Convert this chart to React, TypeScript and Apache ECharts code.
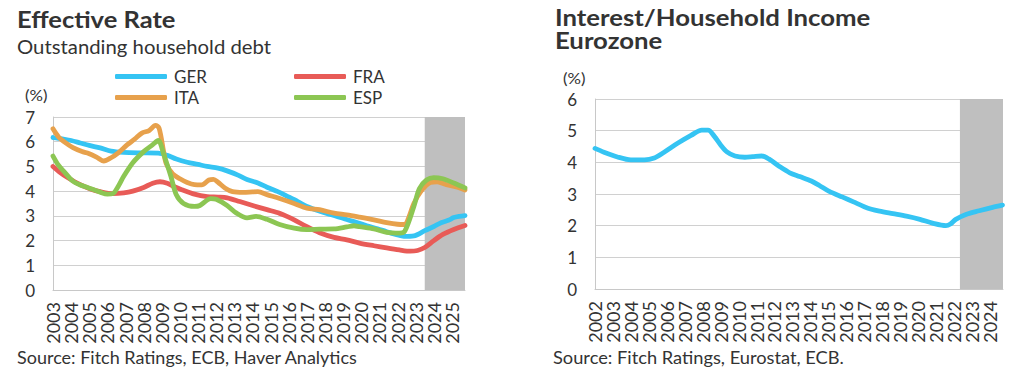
import { useEffect, useRef } from "react";
import * as echarts from "echarts";

type Pt = [number, number];

// Effective rate, outstanding household debt (%), [year, value]
const GER: Pt[] = [
  [2003.0, 6.17], [2003.5, 6.12], [2004.0, 6.05], [2004.5, 5.95], [2005.0, 5.85], [2005.6, 5.75],
  [2006.2, 5.62], [2006.9, 5.57], [2007.8, 5.55], [2008.8, 5.54], [2009.3, 5.45], [2009.8, 5.3],
  [2010.4, 5.17], [2011.0, 5.08], [2011.5, 5.0], [2012.1, 4.93], [2012.6, 4.82], [2013.2, 4.65],
  [2013.7, 4.47], [2014.3, 4.33], [2014.8, 4.16], [2015.4, 3.98], [2015.9, 3.8], [2016.5, 3.58],
  [2017.0, 3.38], [2017.6, 3.22], [2018.1, 3.1], [2018.7, 2.97], [2019.2, 2.85], [2019.8, 2.72],
  [2020.3, 2.6], [2020.9, 2.48], [2021.4, 2.36], [2021.9, 2.25], [2022.35, 2.17], [2022.9, 2.19],
  [2023.5, 2.4], [2024.0, 2.57], [2024.4, 2.72], [2024.8, 2.82], [2025.1, 2.93], [2025.4, 2.98],
  [2025.72, 3.01],
];
const FRA: Pt[] = [
  [2003.0, 5.0], [2003.4, 4.75], [2003.8, 4.55], [2004.5, 4.26], [2005.1, 4.08], [2005.6, 3.98],
  [2006.3, 3.9], [2006.9, 3.93], [2007.4, 4.0], [2008.0, 4.15], [2008.5, 4.32], [2008.9, 4.38],
  [2009.3, 4.32], [2009.7, 4.18], [2010.1, 4.06], [2010.8, 3.88], [2011.5, 3.78], [2012.1, 3.76],
  [2012.6, 3.73], [2013.3, 3.58], [2014.1, 3.4], [2014.8, 3.25], [2015.5, 3.1], [2015.9, 2.98],
  [2016.3, 2.84], [2017.0, 2.56], [2017.7, 2.32], [2018.5, 2.13], [2019.2, 2.03], [2019.9, 1.9],
  [2020.7, 1.79], [2021.4, 1.7], [2022.1, 1.62], [2022.7, 1.57], [2023.1, 1.6], [2023.5, 1.72],
  [2024.0, 2.0], [2024.5, 2.25], [2025.1, 2.45], [2025.72, 2.61],
];
const ITA: Pt[] = [
  [2003.0, 6.52], [2003.3, 6.2], [2003.7, 5.95], [2004.1, 5.76], [2004.6, 5.6], [2004.9, 5.54],
  [2005.4, 5.38], [2005.8, 5.22], [2006.2, 5.35], [2006.6, 5.55], [2007.1, 5.88], [2007.5, 6.1],
  [2007.9, 6.35], [2008.3, 6.45], [2008.65, 6.66], [2008.85, 6.55], [2009.1, 5.6], [2009.25, 5.1],
  [2009.6, 4.7], [2010.0, 4.5], [2010.4, 4.35], [2010.8, 4.26], [2011.2, 4.25], [2011.6, 4.45],
  [2011.85, 4.48], [2012.1, 4.36], [2012.5, 4.12], [2012.9, 3.98], [2013.5, 3.95], [2014.0, 3.97],
  [2014.3, 3.98], [2014.8, 3.86], [2015.5, 3.7], [2016.3, 3.5], [2017.0, 3.31], [2017.7, 3.25],
  [2018.5, 3.11], [2019.2, 3.04], [2019.9, 2.95], [2020.7, 2.84], [2021.4, 2.73], [2022.0, 2.66],
  [2022.4, 2.65], [2022.6, 2.9], [2022.9, 3.5], [2023.3, 4.0], [2023.8, 4.35], [2024.2, 4.38],
  [2024.7, 4.26], [2025.3, 4.16], [2025.72, 4.05],
];
const ESP: Pt[] = [
  [2003.0, 5.42], [2003.3, 5.05], [2003.6, 4.8], [2004.1, 4.4], [2004.5, 4.25], [2004.9, 4.15],
  [2005.6, 3.96], [2006.0, 3.88], [2006.3, 3.9], [2006.6, 4.2], [2006.9, 4.6], [2007.4, 5.15],
  [2008.0, 5.6], [2008.5, 5.88], [2008.8, 6.05], [2009.1, 5.5], [2009.5, 4.6], [2009.8, 3.85],
  [2010.2, 3.5], [2010.8, 3.38], [2011.1, 3.42], [2011.7, 3.7], [2012.0, 3.67], [2012.6, 3.42],
  [2013.1, 3.12], [2013.7, 2.92], [2014.2, 2.98], [2014.8, 2.86], [2015.5, 2.65], [2016.3, 2.5],
  [2017.0, 2.44], [2017.7, 2.46], [2018.5, 2.47], [2019.2, 2.55], [2019.6, 2.6], [2019.9, 2.56],
  [2020.7, 2.47], [2021.4, 2.33], [2022.1, 2.3], [2022.4, 2.38], [2022.9, 3.38], [2023.2, 4.1],
  [2023.6, 4.45], [2024.0, 4.55], [2024.5, 4.5], [2025.1, 4.33], [2025.72, 4.13],
];

// Interest / household income, Eurozone (%)
const EZ: Pt[] = [
  [2002.0, 4.44], [2002.5, 4.32], [2003.25, 4.17], [2004.0, 4.08], [2004.75, 4.08], [2005.3, 4.14],
  [2005.85, 4.32], [2006.6, 4.6], [2007.35, 4.85], [2007.95, 5.02], [2008.3, 5.02], [2008.65, 4.82],
  [2009.0, 4.55], [2009.35, 4.33], [2009.8, 4.2], [2010.35, 4.16], [2010.8, 4.18], [2011.3, 4.2],
  [2011.7, 4.1], [2012.3, 3.86], [2012.85, 3.67], [2013.4, 3.55], [2014.05, 3.41], [2014.5, 3.27],
  [2015.05, 3.08], [2015.8, 2.9], [2016.4, 2.75], [2017.0, 2.6], [2017.4, 2.52], [2017.85, 2.46],
  [2018.6, 2.38], [2019.35, 2.3], [2020.1, 2.2], [2020.8, 2.08], [2021.55, 2.0], [2021.8, 2.05],
  [2022.1, 2.2], [2022.7, 2.36], [2023.4, 2.47], [2024.15, 2.58], [2024.7, 2.65],
];

const LEFT_NAMES = ["GER", "FRA", "ITA", "ESP"];
const LEFT_DATA = [GER, FRA, ITA, ESP];
const LEFT_X_RANGE: [number, number] = [2003, 2025.72];
const RIGHT_X_RANGE: [number, number] = [2002, 2024.73];
const LEFT_FORECAST: [number, number] = [2023.5, 2025.72];
const RIGHT_FORECAST: [number, number] = [2022.33, 2024.73];
const LEFT_Y_MAX = 7;
const RIGHT_Y_MAX = 6;

const COLORS: Record<string, string> = {
  GER: "#35C4F3",
  FRA: "#E85B57",
  ITA: "#E7A14C",
  ESP: "#8CC653",
};
const FONT = "Lato, 'Noto Sans', sans-serif";
const TEXT = "#333333";

export default function App() {
  const ref = useRef<HTMLDivElement>(null);
  useEffect(() => {
    if (!ref.current) return;
    const chart = echarts.init(ref.current, undefined, { renderer: "svg" });

    const xAxisBase = (range: [number, number], gridIndex: number) => ({
      type: "value" as const,
      gridIndex,
      min: range[0],
      max: range[1],
      interval: 1,
      axisLine: { show: true, lineStyle: { color: "#C8C8C8", width: 1 } },
      axisTick: { show: false },
      splitLine: { show: false },
      axisLabel: {
        rotate: 90,
        margin: 12,
        fontSize: 18,
        fontFamily: FONT,
        color: TEXT,
        showMaxLabel: false,
        formatter: (v: number) => (Number.isInteger(v) ? String(v) : ""),
      },
    });
    const yAxisBase = (max: number, gridIndex: number) => ({
      type: "value" as const,
      gridIndex,
      min: 0,
      max,
      interval: 1,
      axisLine: { show: true, lineStyle: { color: "#C8C8C8", width: 1 } },
      axisTick: { show: false },
      splitLine: { show: true, lineStyle: { color: "#D0D0D0", width: 1 } },
      axisLabel: { margin: 18, fontSize: 17, fontFamily: FONT, color: TEXT },
    });

    const lineSeries = (name: string, data: Pt[], color: string, axisIndex: number) => ({
      name,
      type: "line" as const,
      xAxisIndex: axisIndex,
      yAxisIndex: axisIndex,
      data,
      smooth: 0.3,
      symbol: "none",
      lineStyle: { color, width: 4.8, cap: "round" as const, join: "round" as const },
      itemStyle: { color },
      z: 3,
    });

    const leftSeries: any[] = LEFT_NAMES.map((n, i) => lineSeries(n, LEFT_DATA[i], COLORS[n], 0));
    leftSeries[0].markArea = {
      silent: true,
      itemStyle: { color: "#BFBFBF", opacity: 1 },
      data: [[{ xAxis: LEFT_FORECAST[0] }, { xAxis: LEFT_FORECAST[1] }]],
    };
    const rightSeries: any = lineSeries("Eurozone", EZ, COLORS.GER, 1);
    rightSeries.markArea = {
      silent: true,
      itemStyle: { color: "#BFBFBF", opacity: 1 },
      data: [[{ xAxis: RIGHT_FORECAST[0] }, { xAxis: RIGHT_FORECAST[1] }]],
    };

    const legendBase = {
      orient: "vertical" as const,
      top: 68,
      itemWidth: 52,
      itemHeight: 5,
      itemGap: 4,
      icon: "roundRect",
      textStyle: { fontSize: 17, fontFamily: FONT, color: TEXT, padding: [0, 0, 0, 2] },
      selectedMode: false,
      padding: 0,
    };

    const text = (x: number, y: number, t: string, size: number, sx: number, bold = false) => ({
      type: "text",
      x,
      y,
      scaleX: sx,
      style: {
        text: t,
        fontSize: size,
        fontWeight: bold ? "bold" : "normal",
        fontFamily: FONT,
        fill: TEXT,
        align: "left",
        verticalAlign: "middle",
      },
    });

    chart.setOption({
      animation: false,
      grid: [
        { left: 53, right: 1024 - 465, top: 117, bottom: 377 - 290 },
        { left: 595, right: 1024 - 1003, top: 99, bottom: 377 - 289 },
      ],
      xAxis: [xAxisBase(LEFT_X_RANGE, 0), xAxisBase(RIGHT_X_RANGE, 1)],
      yAxis: [yAxisBase(LEFT_Y_MAX, 0), yAxisBase(RIGHT_Y_MAX, 1)],
      legend: [
        { ...legendBase, left: 115, data: ["GER", "ITA"] },
        { ...legendBase, left: 294, data: ["FRA", "ESP"] },
      ],
      graphic: [
        text(17, 19, "Effective Rate", 22, 1.16, true),
        text(17, 47, "Outstanding household debt", 19, 1.07),
        text(25, 95, "(%)", 16, 1.05),
        text(17, 358, "Source: Fitch Ratings, ECB, Haver Analytics", 17, 1.06),
        text(555, 17, "Interest/Household Income", 22, 1.17, true),
        text(555, 40, "Eurozone", 22, 1.17, true),
        text(563, 78, "(%)", 16, 1.05),
        text(553, 358, "Source: Fitch Ratings, Eurostat, ECB.", 17, 1.075),
      ],
      series: [...leftSeries, rightSeries],
    });
    return () => chart.dispose();
  }, []);

  return (
    <div
      ref={ref}
      style={{ position: "fixed", left: 0, top: 0, width: 1024, height: 377, background: "#fff" }}
    />
  );
}
